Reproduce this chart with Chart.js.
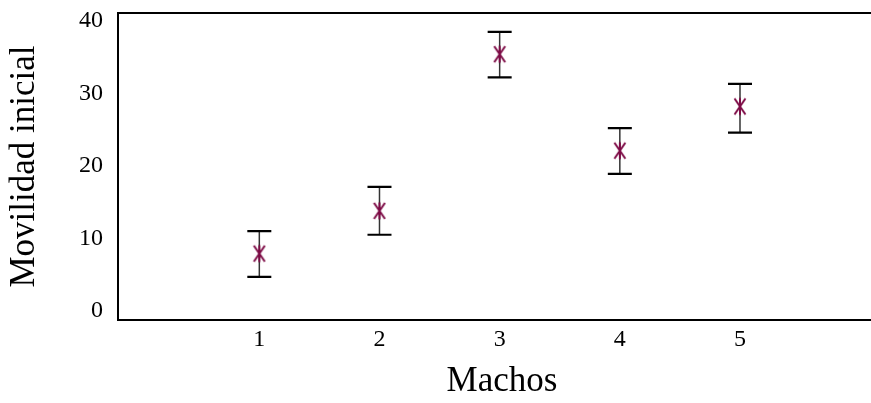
<!DOCTYPE html>
<html>
<head>
<meta charset="utf-8">
<script src="https://cdn.jsdelivr.net/npm/chart.js@4"></script>
<style>
html, body { margin: 0; padding: 0; background: #fff; overflow: hidden; }
#wrap { width: 886px; height: 403px; }
</style>
</head>
<body>
<div id="wrap"><canvas id="area" width="886" height="403"></canvas></div>
<script>
// data
const machos = [1, 2, 3, 4, 5];
const movilidad = [7.9, 13.8, 35.4, 22.1, 28.2];
const errLow = [4.7, 10.5, 32.2, 18.9, 24.6];
const errHigh = [11.0, 17.1, 38.5, 25.2, 31.3];
const yTicks = [0, 10, 20, 30, 40];

const serif = "'Liberation Serif', 'Times New Roman', serif";

// asterisk marker
const star = document.createElement('canvas');
star.width = 14; star.height = 20;
(function () {
  const c = star.getContext('2d');
  c.strokeStyle = '#7d0a45';
  c.lineWidth = 2;
  c.beginPath();
  c.moveTo(7, 1.5); c.lineTo(7, 18.5);
  c.moveTo(1.5, 2); c.lineTo(12.5, 18);
  c.moveTo(12.5, 2); c.lineTo(1.5, 18);
  c.stroke();
})();

const errorBars = {
  id: 'errorBars',
  beforeDatasetsDraw(chart) {
    const ctx = chart.ctx, xs = chart.scales.x, ys = chart.scales.y;
    ctx.save();
    machos.forEach((m, i) => {
      const px = xs.getPixelForValue(m);
      const lo = ys.getPixelForValue(errLow[i]);
      const hi = ys.getPixelForValue(errHigh[i]);
      ctx.strokeStyle = '#333';
      ctx.lineWidth = 1.5;
      ctx.beginPath();
      ctx.moveTo(px, lo); ctx.lineTo(px, hi);
      ctx.stroke();
      ctx.strokeStyle = '#000';
      ctx.lineWidth = 2.2;
      ctx.beginPath();
      ctx.moveTo(px - 12, lo); ctx.lineTo(px + 12, lo);
      ctx.moveTo(px - 12, hi); ctx.lineTo(px + 12, hi);
      ctx.stroke();
    });
    ctx.restore();
  }
};

const topLine = {
  id: 'topLine',
  afterDraw(chart) {
    const ctx = chart.ctx, a = chart.chartArea;
    ctx.save();
    ctx.strokeStyle = '#000';
    ctx.lineWidth = 2;
    ctx.beginPath();
    ctx.moveTo(a.left - 1, a.top); ctx.lineTo(a.right, a.top);
    ctx.stroke();
    ctx.restore();
  }
};

new Chart(document.getElementById('area'), {
  type: 'scatter',
  data: {
    datasets: [{
      label: 'Movilidad inicial',
      data: machos.map((m, i) => ({ x: m, y: movilidad[i] })),
      pointStyle: star,
      pointRadius: 7,
      pointHoverRadius: 7
    }]
  },
  options: {
    responsive: false,
    animation: false,
    layout: { autoPadding: false, padding: { top: 13, right: 0, left: 0, bottom: 0 } },
    plugins: { legend: { display: false }, tooltip: { enabled: false } },
    scales: {
      x: {
        type: 'linear',
        min: -0.176,
        max: 6.215,
        afterBuildTicks: s => { s.ticks = machos.map(v => ({ value: v })); },
        afterFit: s => { s.height = 83; s.paddingLeft = 0; s.paddingRight = 0; },
        grid: { display: false, drawTicks: false },
        border: { display: true, color: '#000', width: 2 },
        ticks: { color: '#000', font: { family: serif, size: 24 }, padding: 5 },
        title: {
          display: true, text: 'Machos', color: '#000',
          font: { family: serif, size: 35 }, padding: { top: 0, bottom: 0 }
        }
      },
      y: {
        min: -1.26,
        max: 41.09,
        afterBuildTicks: s => { s.ticks = yTicks.map(v => ({ value: v })); },
        afterFit: s => { s.width = 118; s.paddingTop = 0; s.paddingBottom = 0; },
        grid: { display: false, drawTicks: false },
        border: { display: true, color: '#000', width: 2 },
        ticks: { color: '#000', font: { family: serif, size: 24 }, padding: 15 },
        title: {
          display: true, text: 'Movilidad inicial', color: '#000',
          font: { family: serif, size: 35 }, padding: { top: 4, bottom: 0 }
        }
      }
    }
  },
  plugins: [errorBars, topLine]
});
</script>
</body>
</html>
